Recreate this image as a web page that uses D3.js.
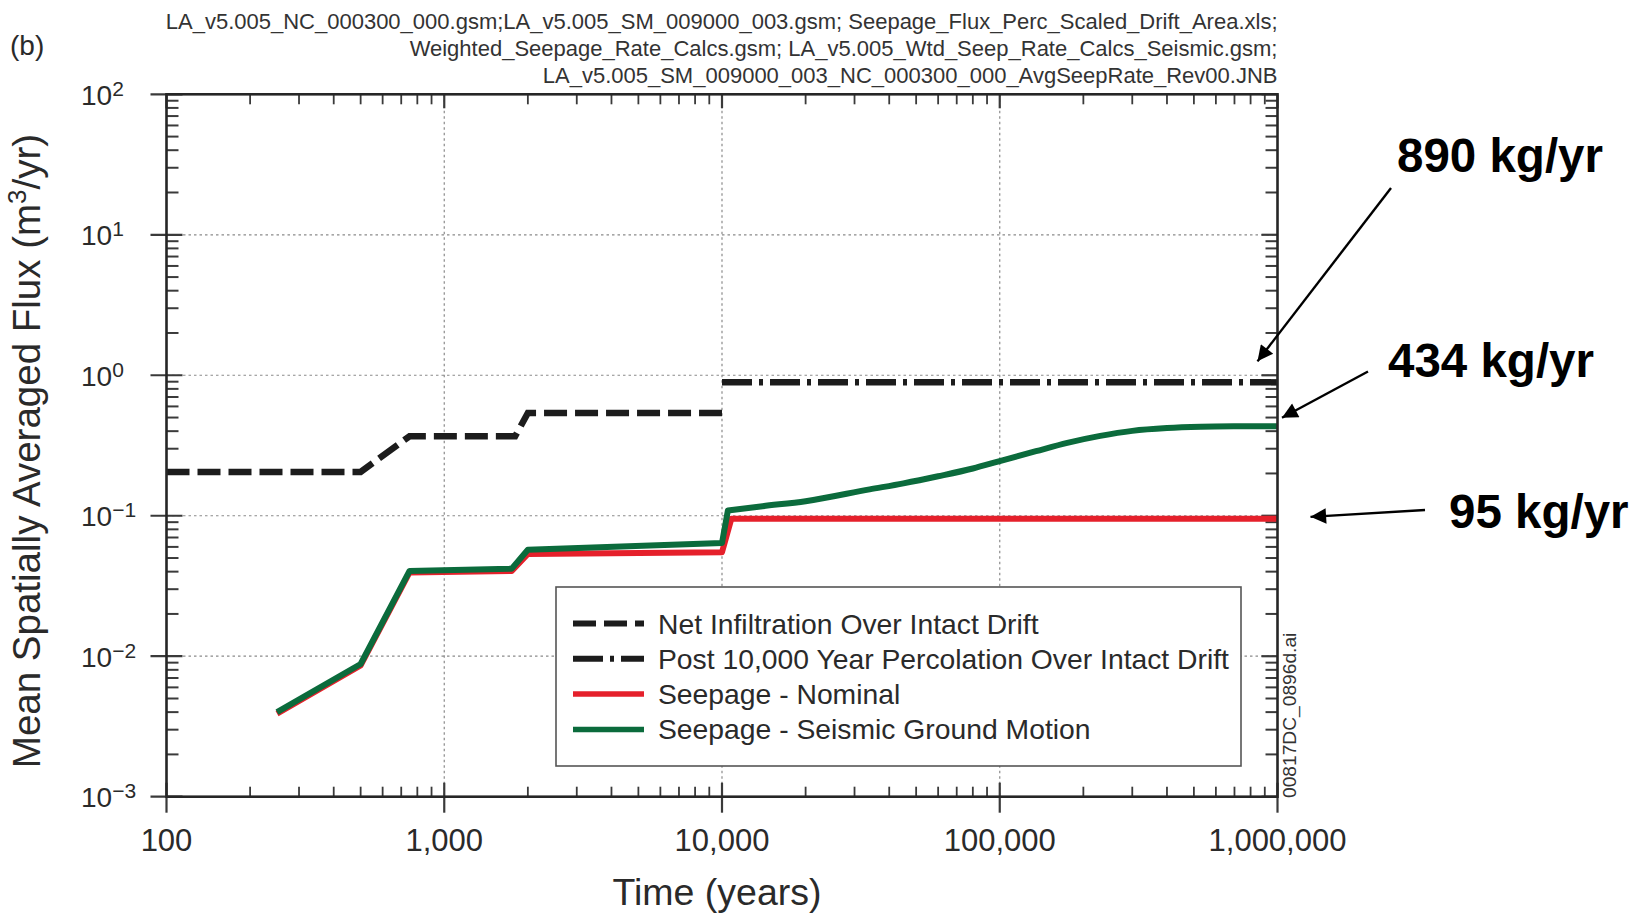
<!DOCTYPE html>
<html>
<head>
<meta charset="utf-8">
<script src="https://cdn.jsdelivr.net/npm/d3@7"></script>
<style>
  html, body { margin: 0; padding: 0; background: #fff; }
  svg { display: block; font-family: "Liberation Sans", Arial, sans-serif; }
</style>
</head>
<body>
<svg id="chart" width="1635" height="913"></svg>
<script>
// ---- Data: mean spatially averaged flux (m^3/yr) versus time (years) ----
const infiltrationTime  = [100, 500, 750, 1800, 2000, 10000];
const infiltrationFlux  = [0.205, 0.205, 0.368, 0.368, 0.539, 0.539];

const percolationTime   = [10000, 1000000];
const percolationFlux   = [0.89, 0.89];

const nominalTime       = [250, 500, 750, 1750, 2000, 10000, 10800, 1000000];
const nominalFlux       = [0.0039, 0.0086, 0.0395, 0.0405, 0.0535, 0.055, 0.095, 0.095];

const seismicTime       = [250, 500, 750, 1750, 2000, 10000, 10500, 14000, 20000, 34000, 45000,
                           60000, 80000, 100000, 135000, 175000, 230000, 300000, 400000, 530000,
                           700000, 1000000];
const seismicFlux       = [0.0040, 0.0088, 0.0405, 0.0420, 0.0572, 0.0640, 0.109, 0.117, 0.127,
                           0.154, 0.170, 0.191, 0.217, 0.245, 0.288, 0.330, 0.370, 0.402, 0.421,
                           0.430, 0.433, 0.434];
// the seismic curve is piecewise linear up to this index and smooth after it
const seismicSmoothFrom = 6;

const legendLabels = [
  "Net Infiltration Over Intact Drift",
  "Post 10,000 Year Percolation Over Intact Drift",
  "Seepage - Nominal",
  "Seepage - Seismic Ground Motion"
];

const xTickValues = [100, 1000, 10000, 100000, 1000000];
const xTickLabels = ["100", "1,000", "10,000", "100,000", "1,000,000"];
const yTickExponents = [-3, -2, -1, 0, 1, 2];

// end-of-run values called out on the right, in kg/yr (1 m^3 of water = 1000 kg)
const calloutFlux   = [0.89, 0.434, 0.095];
const calloutLabels = ["890 kg/yr", "434 kg/yr", "95 kg/yr"];

const sourceLines = [
  "LA_v5.005_NC_000300_000.gsm;LA_v5.005_SM_009000_003.gsm; Seepage_Flux_Perc_Scaled_Drift_Area.xls;",
  "Weighted_Seepage_Rate_Calcs.gsm; LA_v5.005_Wtd_Seep_Rate_Calcs_Seismic.gsm;",
  "LA_v5.005_SM_009000_003_NC_000300_000_AvgSeepRate_Rev00.JNB"
];

// ---- Layout ----
const svg = d3.select("#chart");
const plotLeft = 166.5, plotRight = 1277.5, plotTop = 94.3, plotBottom = 796.7;

const x = d3.scaleLog().domain([100, 1000000]).range([plotLeft, plotRight]);
const y = d3.scaleLog().domain([1e-3, 1e2]).range([plotBottom, plotTop]);

const axisColor = "#262626";
const black = "#1c1c1c";
const red = "#e5202b";
const green = "#0b6b3c";

const zip = (a, b) => a.map((v, i) => [v, b[i]]);

// ---- Grid ----
const grid = svg.append("g")
  .attr("stroke", "#8a8a8a").attr("stroke-width", 1.2).attr("stroke-dasharray", "2.5,3");
[1000, 10000, 100000].forEach(t => {
  grid.append("line").attr("x1", x(t)).attr("x2", x(t)).attr("y1", plotTop).attr("y2", plotBottom);
});
[-2, -1, 0, 1].forEach(e => {
  const v = Math.pow(10, e);
  grid.append("line").attr("x1", plotLeft).attr("x2", plotRight).attr("y1", y(v)).attr("y2", y(v));
});

// ---- Ticks ----
const ticks = svg.append("g").attr("stroke", "#3a3a3a");
const isMajor = v => Math.abs(Math.log10(v) - Math.round(Math.log10(v))) < 1e-9;

x.ticks().forEach(t => {
  const major = isMajor(t);
  const px = x(t);
  ticks.append("line").attr("x1", px).attr("x2", px)
    .attr("y1", major ? plotBottom + 16 : plotBottom).attr("y2", plotBottom - (major ? 14 : 10))
    .attr("stroke-width", major ? 2.2 : 1.8);
  ticks.append("line").attr("x1", px).attr("x2", px)
    .attr("y1", plotTop).attr("y2", plotTop + (major ? 14 : 10))
    .attr("stroke-width", major ? 2.2 : 1.8);
});
y.ticks().forEach(v => {
  const major = isMajor(v);
  const py = y(v);
  ticks.append("line").attr("y1", py).attr("y2", py)
    .attr("x1", major ? plotLeft - 16 : plotLeft).attr("x2", plotLeft + (major ? 16 : 12))
    .attr("stroke-width", major ? 2.2 : 2);
  ticks.append("line").attr("y1", py).attr("y2", py)
    .attr("x1", plotRight).attr("x2", plotRight - (major ? 16 : 12))
    .attr("stroke-width", major ? 2.2 : 2);
});

// ---- Series ----
const line = d3.line().x(d => x(d[0])).y(d => y(d[1]));
const smoothLine = d3.line().x(d => x(d[0])).y(d => y(d[1])).curve(d3.curveMonotoneX);

svg.append("path").datum(zip(infiltrationTime, infiltrationFlux))
  .attr("d", line).attr("fill", "none").attr("stroke", black)
  .attr("stroke-width", 6.5).attr("stroke-dasharray", "23,8");

svg.append("path").datum(zip(percolationTime, percolationFlux))
  .attr("d", line).attr("fill", "none").attr("stroke", black)
  .attr("stroke-width", 6.5).attr("stroke-dasharray", "30,7,4,7");

svg.append("path").datum(zip(nominalTime, nominalFlux))
  .attr("d", line).attr("fill", "none").attr("stroke", red)
  .attr("stroke-width", 6).attr("stroke-linejoin", "round");

const seismicPts = zip(seismicTime, seismicFlux);
const seismicPath = line(seismicPts.slice(0, seismicSmoothFrom + 1)) +
  smoothLine(seismicPts.slice(seismicSmoothFrom)).replace(/^M[^A-Za-z]*/, "");
svg.append("path")
  .attr("d", seismicPath).attr("fill", "none").attr("stroke", green)
  .attr("stroke-width", 6).attr("stroke-linejoin", "round");

// ---- Frame ----
svg.append("rect")
  .attr("x", plotLeft).attr("y", plotTop)
  .attr("width", plotRight - plotLeft).attr("height", plotBottom - plotTop)
  .attr("fill", "none").attr("stroke", axisColor).attr("stroke-width", 2.6);

// ---- Tick labels ----
svg.append("g").selectAll("text").data(xTickValues).join("text")
  .attr("x", d => x(d)).attr("y", 851)
  .attr("text-anchor", "middle").attr("font-size", 31).attr("fill", "#2a2a2a")
  .text((d, i) => xTickLabels[i]);

const yLab = svg.append("g").attr("fill", "#2a2a2a");
yTickExponents.forEach(e => {
  const py = y(Math.pow(10, e));
  const t = yLab.append("text").attr("x", 81).attr("y", py + 10.5).attr("font-size", 28);
  t.append("tspan").text("10");
  t.append("tspan").attr("dy", -9).attr("font-size", 21)
    .text(e < 0 ? "\u2212" + Math.abs(e) : String(e));
});

// ---- Axis titles ----
svg.append("text").attr("x", 717).attr("y", 905)
  .attr("text-anchor", "middle").attr("font-size", 37.5).attr("fill", "#2a2a2a")
  .text("Time (years)");

const yt = svg.append("text")
  .attr("transform", "translate(40,451) rotate(-90)")
  .attr("text-anchor", "middle").attr("font-size", 38.5).attr("fill", "#2a2a2a");
yt.append("tspan").text("Mean Spatially Averaged Flux (m");
yt.append("tspan").attr("dy", -14).attr("font-size", 26).text("3");
yt.append("tspan").attr("dy", 14).text("/yr)");

// ---- Source file header and panel tag ----
svg.append("g").selectAll("text").data(sourceLines).join("text")
  .attr("x", plotRight).attr("y", (d, i) => 29 + i * 27)
  .attr("text-anchor", "end").attr("font-size", 22).attr("fill", "#333")
  .text(d => d);

svg.append("text").attr("x", 10).attr("y", 55)
  .attr("font-size", 28).attr("fill", "#2a2a2a").text("(b)");

svg.append("text")
  .attr("transform", "translate(1296,798) rotate(-90)")
  .attr("font-size", 19.2).attr("fill", "#333")
  .text("00817DC_0896d.ai");

// ---- Legend ----
const lg = svg.append("g");
lg.append("rect").attr("x", 556).attr("y", 587).attr("width", 685).attr("height", 179)
  .attr("fill", "#fff").attr("stroke", "#555").attr("stroke-width", 1.6);
const legendStyles = [
  { stroke: black, dash: "23,8" },
  { stroke: black, dash: "30,7,4,7" },
  { stroke: red, dash: null },
  { stroke: green, dash: null }
];
legendLabels.forEach((lab, i) => {
  const ly = 623.5 + i * 35.3;
  const s = legendStyles[i];
  const l = lg.append("line").attr("x1", 573).attr("x2", 644).attr("y1", ly).attr("y2", ly)
    .attr("stroke", s.stroke).attr("stroke-width", s.dash ? 6 : 5.5);
  if (s.dash) l.attr("stroke-dasharray", s.dash);
  lg.append("text").attr("x", 658).attr("y", ly + 10)
    .attr("font-size", 28.3).attr("fill", "#2a2a2a").text(lab);
});

// ---- Callouts for the final values ----
const defs = svg.append("defs");
defs.append("marker").attr("id", "head").attr("viewBox", "0 0 10 10")
  .attr("refX", 10).attr("refY", 5).attr("markerWidth", 9).attr("markerHeight", 6.5)
  .attr("markerUnits", "strokeWidth").attr("orient", "auto")
  .append("path").attr("d", "M0,0 L10,5 L0,10 Z").attr("fill", "#000");

const calloutText = [
  { x: 1397, y: 172 },
  { x: 1388, y: 377 },
  { x: 1449, y: 528 }
];
const arrowStart = [
  { x: 1391, y: 188 },
  { x: 1368, y: 371.5 },
  { x: 1425, y: 510 }
];
const tipOffset = [
  { dx: -20, dy: -21 },
  { dx: 4.5, dy: -8.5 },
  { dx: 33, dy: -2 }
];
calloutFlux.forEach((v, i) => {
  svg.append("line")
    .attr("x1", arrowStart[i].x).attr("y1", arrowStart[i].y)
    .attr("x2", x(1000000) + tipOffset[i].dx).attr("y2", y(v) + tipOffset[i].dy)
    .attr("stroke", "#000").attr("stroke-width", 2.4)
    .attr("marker-end", "url(#head)");
  svg.append("text").attr("x", calloutText[i].x).attr("y", calloutText[i].y)
    .attr("font-size", 47.5).attr("font-weight", "bold").attr("fill", "#000")
    .text(calloutLabels[i]);
});
</script>
</body>
</html>
